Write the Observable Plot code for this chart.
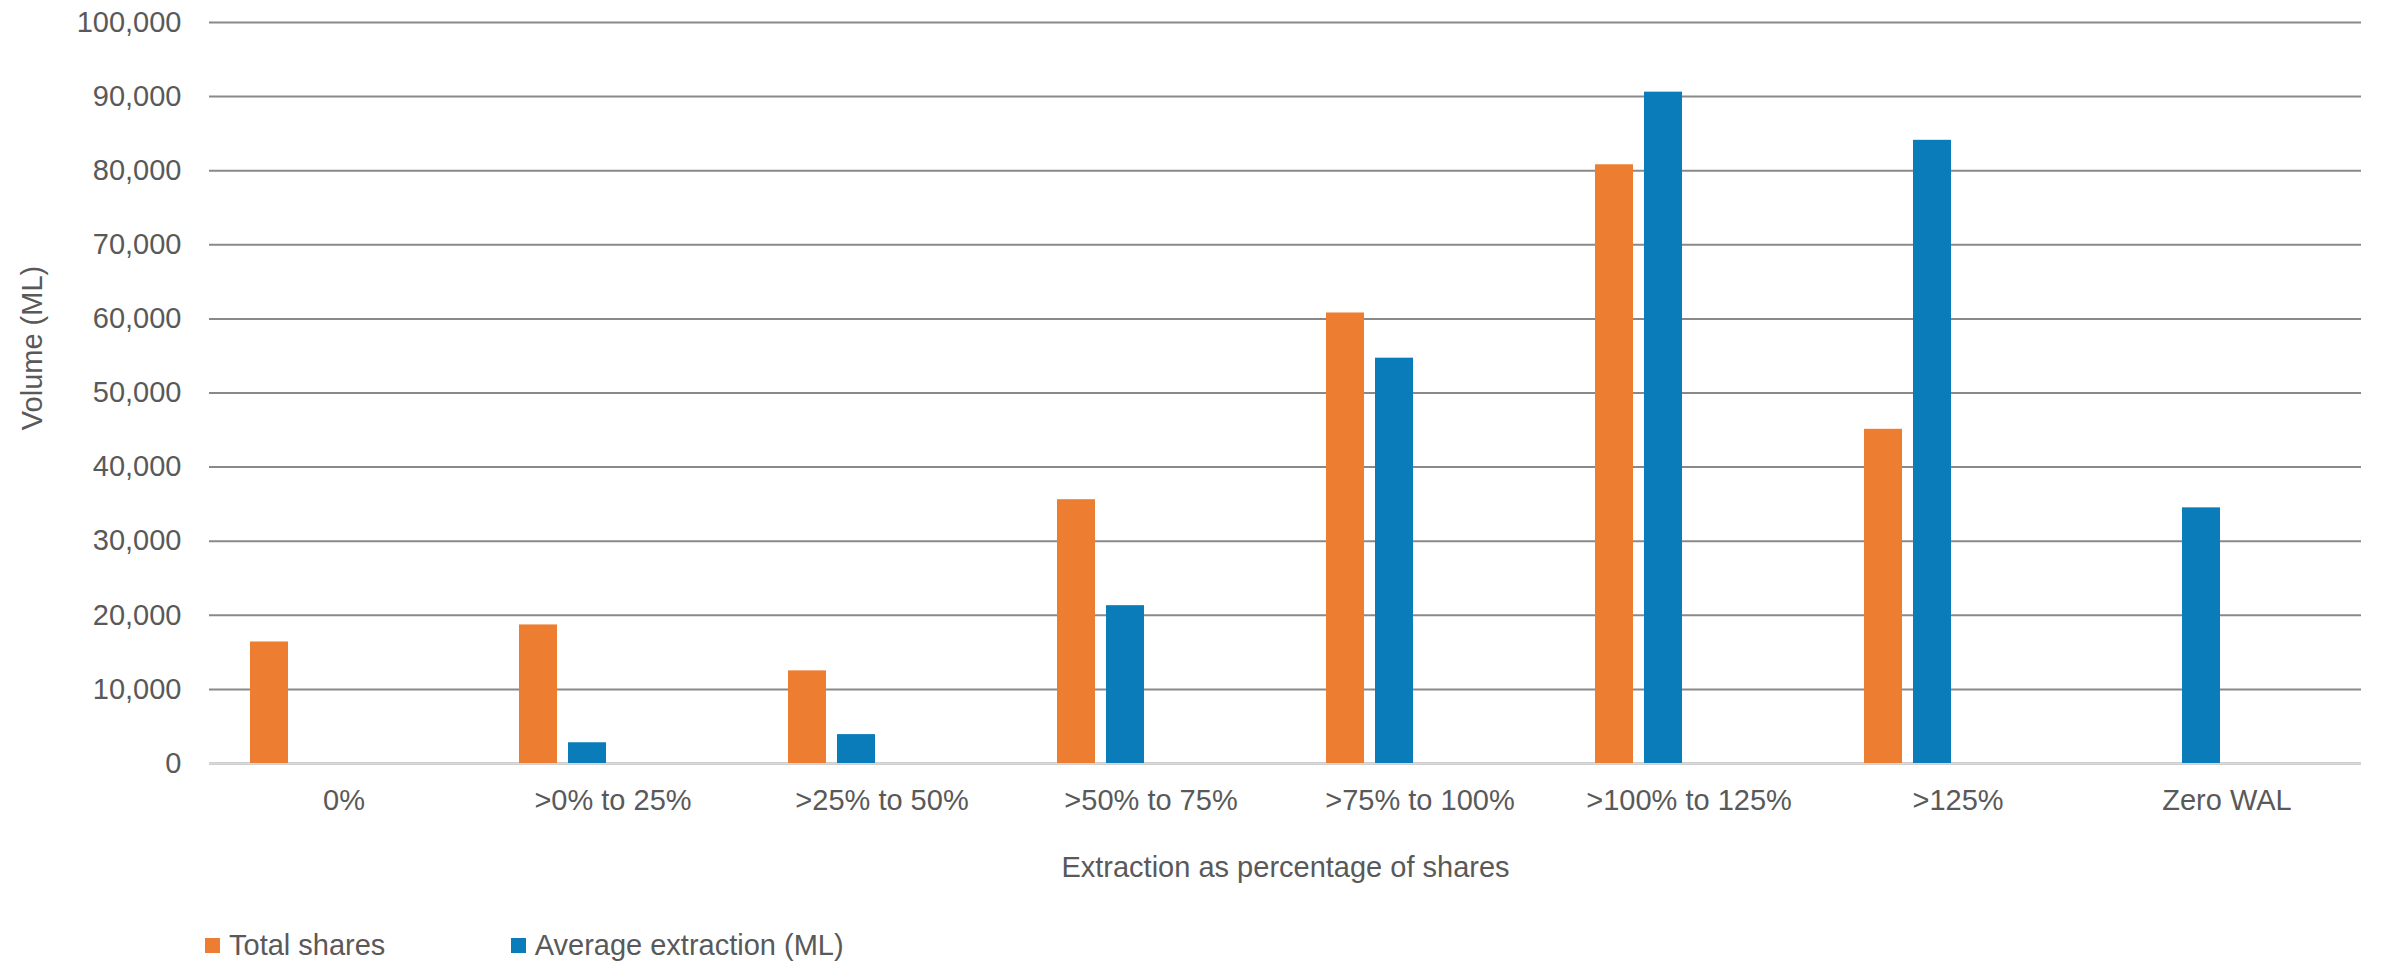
<!DOCTYPE html>
<html>
<head>
<meta charset="utf-8">
<script src="https://cdn.jsdelivr.net/npm/d3@7"></script>
<script src="https://cdn.jsdelivr.net/npm/@observablehq/plot@0.6"></script>
<style>
  html, body { margin: 0; padding: 0; background: #fff; }
  body { font-family: "Liberation Sans", Arial, sans-serif; width: 2387px; }
  #legend { display: flex; align-items: flex-start; height: 50px; box-sizing: border-box;
            padding-left: 205px; padding-top: 16px; font-size: 29px; line-height: 29px; color: #595959; }
  #legend .item { display: flex; align-items: center; white-space: nowrap; }
  #legend .sw { display: inline-block; width: 15px; height: 15px; margin-right: 9px; }
</style>
</head>
<body>
<div id="chart"></div>
<div id="legend"></div>
<script>
// ---- data ----
const categories = ["0%", ">0% to 25%", ">25% to 50%", ">50% to 75%", ">75% to 100%", ">100% to 125%", ">125%", "Zero WAL"];
const seriesNames = ["Total shares", "Average extraction (ML)"];
const totalShares = [16400, 18700, 12500, 35600, 60800, 80800, 45100, null];
const averageExtraction = [null, 2800, 3900, 21300, 54700, 90600, 84100, 34500];
const seriesColors = ["#ED7D31", "#0B7CBA"];
const yTicks = [0, 10000, 20000, 30000, 40000, 50000, 60000, 70000, 80000, 90000, 100000];
const xTitle = "Extraction as percentage of shares";
const yTitle = "Volume (ML)";

const seriesValues = [totalShares, averageExtraction];
const rows = categories.flatMap((c, i) =>
  seriesNames.map((s, k) => ({category: c, series: s, value: seriesValues[k][i]}))
).filter(d => d.value != null);

const chart = Plot.plot({
  width: 2387,
  height: 915,
  marginLeft: 205,
  marginRight: 23,
  marginTop: 22,
  marginBottom: 152,
  style: {fontFamily: '"Liberation Sans", Arial, sans-serif', fontSize: "29px", color: "#595959", background: "#fff"},
  fx: {domain: categories, padding: 0, label: null},
  x: {domain: seriesNames, paddingInner: 0.221, paddingOuter: 1.848, align: 0.228, axis: null},
  y: {domain: [0, 100000]},
  color: {domain: seriesNames, range: seriesColors},
  marks: [
    Plot.gridY(yTicks, {stroke: "#898989", strokeOpacity: 1, strokeWidth: 2}),
    Plot.ruleY([0], {stroke: "#d9d9d9", strokeWidth: 2}),
    Plot.barY(rows, {fx: "category", x: "series", y: "value", fill: "series"}),
    Plot.axisY(yTicks, {tickSize: 0, tickPadding: 28, tickFormat: d3.format(","), label: null}),
    Plot.axisFx({anchor: "bottom", tickSize: 0, tickPadding: 26, label: xTitle, labelAnchor: "center", labelOffset: 113}),
    Plot.text([yTitle], {frameAnchor: "left", textAnchor: "middle", rotate: -90, dx: -177, dy: -45, facetAnchor: "left"})
  ]
});
document.getElementById("chart").appendChild(chart);

// ---- legend ----
const legend = document.getElementById("legend");
seriesNames.forEach((s, i) => {
  const item = document.createElement("div");
  item.className = "item";
  if (i === 0) item.style.width = "305.7px";
  const sw = document.createElement("span");
  sw.className = "sw";
  sw.style.background = seriesColors[i];
  item.appendChild(sw);
  item.appendChild(document.createTextNode(s));
  legend.appendChild(item);
});
</script>
</body>
</html>
